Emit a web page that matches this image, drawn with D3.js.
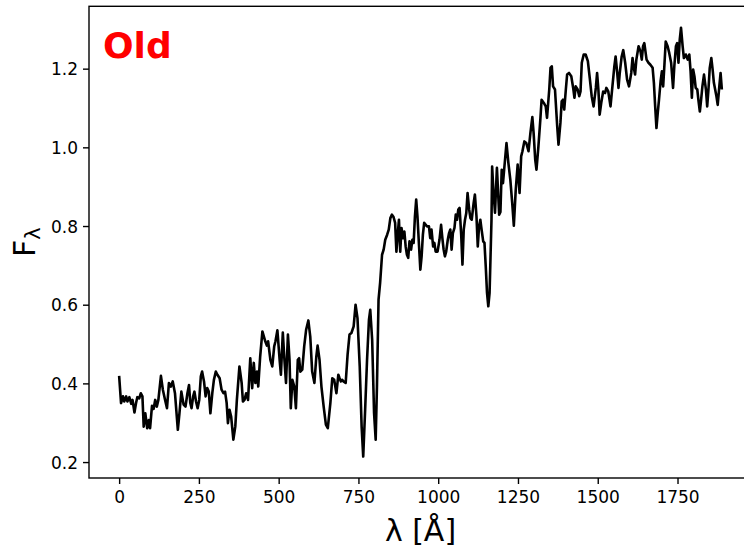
<!DOCTYPE html>
<html>
<head>
<meta charset="utf-8">
<script src="https://cdn.jsdelivr.net/npm/d3@7"></script>
<style>
body { margin: 0; background: #fff; }
text { font-family: "DejaVu Sans", sans-serif; fill: #000; }
</style>
</head>
<body>
<script>
// spectrum
const wavelength = [0,6,12,16,22,26,32,38,42,48,
  53,57,63,68,73,77,82,88,93,97,
  103,108,113,118,123,131,137,144,150,156,
  162,168,175,184,189,195,202,208,214,219,
  223,227,232,236,241,246,251,256,260,266,
  271,276,281,286,292,297,303,308,315,321,
  327,332,337,341,346,351,358,364,369,377,
  384,388,393,398,404,411,417,422,427,432,
  436,442,449,458,463,467,474,480,486,490,
  496,503,507,513,518,523,529,534,538,543,
  549,554,560,564,568,574,580,586,593,599,
  605,612,618,622,628,634,641,648,654,662,
  668,674,681,687,691,695,699,703,710,716,
  722,728,735,741,747,754,760,765,771,777,
  783,787,793,799,804,808,813,818,824,829,
  834,840,845,850,855,860,865,869,873,877,
  881,885,890,894,898,902,906,910,915,919,
  923,927,931,935,940,944,948,952,956,961,
  965,971,975,979,984,988,992,998,1004,1009,
  1013,1017,1021,1025,1030,1034,1038,1042,1046,1051,
  1055,1059,1063,1067,1072,1076,1080,1084,1088,1092,
  1097,1101,1105,1111,1115,1120,1124,1128,1132,1136,
  1141,1145,1149,1153,1157,1161,1167,1169,1173,1178,
  1184,1191,1195,1199,1203,1214,1220,1226,1232,1237,
  1243,1249,1255,1260,1264,1270,1276,1283,1289,1295,
  1299,1304,1308,1314,1320,1324,1331,1337,1341,1348,
  1352,1356,1360,1366,1373,1377,1383,1387,1391,1395,
  1400,1404,1410,1417,1423,1427,1431,1437,1442,1446,
  1450,1456,1462,1469,1475,1481,1487,1494,1498,1502,
  1506,1511,1517,1523,1527,1533,1540,1546,1552,1556,
  1561,1565,1569,1575,1580,1586,1592,1598,1605,1609,
  1613,1617,1621,1628,1634,1638,1642,1646,1653,1659,
  1665,1672,1676,1680,1684,1688,1692,1697,1701,1705,
  1709,1713,1719,1724,1730,1736,1740,1745,1749,1753,
  1757,1761,1766,1770,1776,1782,1787,1791,1795,1799,
  1803,1807,1812,1816,1820,1824,1828,1833,1839,1843,
  1847,1851,1856,1860,1864,1868,1872,1876,1881,1885,1889];

const flux = [0.419,0.350,0.367,0.354,0.367,0.354,0.365,0.348,0.358,0.326,
  0.350,0.365,0.362,0.375,0.367,0.290,0.324,0.286,0.307,0.286,
  0.343,0.335,0.358,0.341,0.358,0.419,0.384,0.358,0.337,0.401,
  0.392,0.405,0.375,0.282,0.324,0.379,0.346,0.341,0.375,0.396,
  0.350,0.337,0.367,0.379,0.354,0.337,0.358,0.418,0.430,0.405,
  0.367,0.388,0.379,0.324,0.375,0.409,0.430,0.422,0.413,0.384,
  0.375,0.379,0.350,0.299,0.333,0.316,0.257,0.290,0.358,0.443,
  0.401,0.354,0.358,0.375,0.358,0.464,0.388,0.452,0.401,0.430,
  0.392,0.468,0.532,0.507,0.496,0.507,0.460,0.443,0.494,0.507,
  0.535,0.460,0.422,0.529,0.460,0.401,0.524,0.460,0.337,0.409,
  0.392,0.337,0.460,0.464,0.430,0.435,0.494,0.536,0.560,0.519,
  0.430,0.401,0.468,0.496,0.460,0.392,0.341,0.295,0.286,0.350,
  0.413,0.409,0.375,0.422,0.413,0.405,0.409,0.405,0.401,0.473,
  0.524,0.528,0.545,0.600,0.566,0.443,0.290,0.214,0.333,0.460,
  0.562,0.587,0.511,0.324,0.257,0.392,0.613,0.656,0.727,0.740,
  0.765,0.778,0.791,0.820,0.829,0.823,0.808,0.735,0.778,0.816,
  0.735,0.795,0.769,0.786,0.748,0.727,0.719,0.761,0.740,0.765,
  0.757,0.824,0.867,0.824,0.748,0.689,0.723,0.778,0.808,0.803,
  0.799,0.799,0.769,0.791,0.748,0.757,0.735,0.735,0.765,0.803,
  0.769,0.740,0.723,0.735,0.765,0.782,0.791,0.740,0.782,0.795,
  0.829,0.816,0.842,0.846,0.778,0.702,0.791,0.816,0.833,0.884,
  0.842,0.820,0.816,0.858,0.880,0.824,0.748,0.799,0.816,0.791,
  0.761,0.757,0.697,0.630,0.596,0.630,0.816,0.951,0.889,0.834,
  0.948,0.829,0.836,0.943,0.909,1.011,0.960,0.918,0.858,0.801,
  0.892,0.956,0.884,0.977,0.990,1.015,1.011,0.990,1.037,1.077,
  1.037,0.969,0.943,1.002,1.070,1.121,1.113,1.104,1.075,1.147,
  1.202,1.206,1.155,1.147,1.053,1.007,1.062,1.117,1.121,1.096,
  1.147,1.185,1.189,1.181,1.151,1.126,1.155,1.147,1.130,1.142,
  1.215,1.236,1.236,1.219,1.176,1.130,1.104,1.151,1.189,1.147,
  1.083,1.113,1.142,1.138,1.151,1.142,1.104,1.155,1.206,1.231,
  1.189,1.151,1.189,1.231,1.247,1.215,1.172,1.155,1.189,1.227,
  1.202,1.185,1.223,1.257,1.244,1.223,1.257,1.265,1.223,1.215,
  1.210,1.202,1.164,1.104,1.049,1.087,1.121,1.168,1.193,1.155,
  1.210,1.269,1.257,1.240,1.215,1.151,1.206,1.257,1.265,1.215,
  1.274,1.304,1.257,1.227,1.236,1.223,1.236,1.193,1.126,1.198,
  1.181,1.151,1.147,1.117,1.091,1.121,1.155,1.185,1.147,1.104,
  1.147,1.202,1.227,1.198,1.164,1.147,1.130,1.108,1.155,1.189,1.147];

const xTicks = [0, 250, 500, 750, 1000, 1250, 1500, 1750];
const yTicks = [0.2, 0.4, 0.6, 0.8, 1.0, 1.2];

const width = 744;
const height = 547;
// the axes box runs a bit past the right edge of the picture
const box = { left: 89, right: 752, top: 6.3, bottom: 478 };

const data = wavelength.map((w, i) => ({ w: w, f: flux[i] }));

// matplotlib style 5% margins
const pad = (lo, hi) => [lo - (hi - lo) * 0.05, hi + (hi - lo) * 0.05];
const x = d3.scaleLinear()
  .domain(pad(d3.min(wavelength), d3.max(wavelength)))
  .range([box.left, box.right]);
const y = d3.scaleLinear()
  .domain(pad(d3.min(flux), d3.max(flux)))
  .range([box.bottom, box.top]);

const svg = d3.select("body").append("svg")
  .attr("width", width)
  .attr("height", height);

svg.append("path")
  .datum(data)
  .attr("fill", "none")
  .attr("stroke", "#000")
  .attr("stroke-width", 2.6)
  .attr("stroke-linejoin", "round")
  .attr("d", d3.line().x((d) => x(d.w)).y((d) => y(d.f)));

// frame
svg.append("rect")
  .attr("x", box.left)
  .attr("y", box.top)
  .attr("width", box.right - box.left)
  .attr("height", box.bottom - box.top)
  .attr("fill", "none")
  .attr("stroke", "#000")
  .attr("stroke-width", 1.4);

const xAxis = svg.append("g")
  .attr("transform", `translate(0, ${ box.bottom })`)
  .call(d3.axisBottom(x).tickValues(xTicks).tickSize(6).tickFormat(d3.format("d")));
xAxis.select(".domain").remove();
xAxis.selectAll("line").attr("stroke-width", 1.4);
xAxis.selectAll("text")
  .attr("y", 25.3)
  .attr("dy", null)
  .style("font-size", "17px")
  .style("font-family", "DejaVu Sans");

const yAxis = svg.append("g")
  .attr("transform", `translate(${ box.left }, 0)`)
  .call(d3.axisLeft(y).tickValues(yTicks).tickSize(6).tickFormat(d3.format(".1f")));
yAxis.select(".domain").remove();
yAxis.selectAll("line").attr("stroke-width", 1.4);
yAxis.selectAll("text")
  .attr("x", -11)
  .attr("dy", "0.36em")
  .style("font-size", "17px")
  .style("font-family", "DejaVu Sans");

svg.append("text")
  .attr("x", (box.left + box.right) / 2)
  .attr("y", 541)
  .attr("text-anchor", "middle")
  .style("font-size", "30px")
  .text("λ [Å]");

const ylab = svg.append("text")
  .attr("transform", `translate(35, ${ (box.top + box.bottom) / 2 }) rotate(-90)`)
  .attr("text-anchor", "middle")
  .style("font-size", "30px");
ylab.append("tspan").text("F");
ylab.append("tspan")
  .attr("dy", 5)
  .style("font-size", "21px")
  .text("λ");

svg.append("text")
  .attr("x", 103)
  .attr("y", 58)
  .style("font-size", "36px")
  .style("font-weight", "bold")
  .style("fill", "#ff0000")
  .text("Old");
</script>
</body>
</html>
